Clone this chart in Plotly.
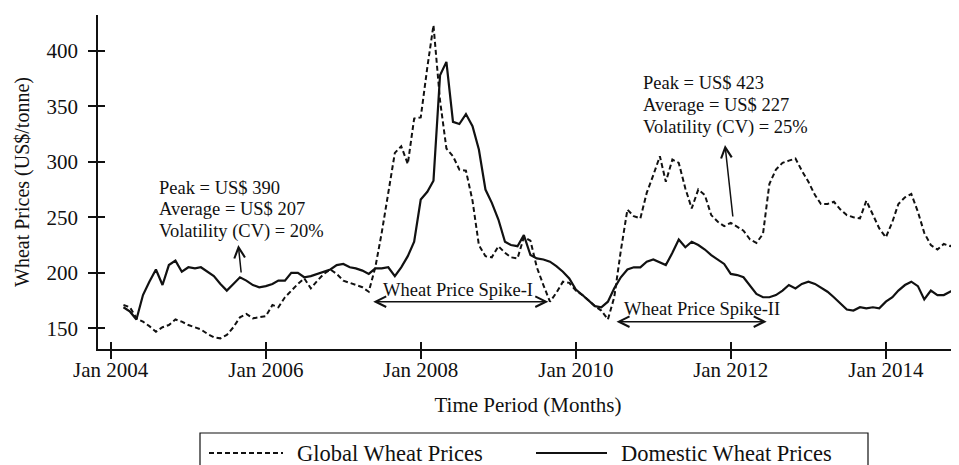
import pandas as pd
import plotly.graph_objects as go

# ---- data (monthly, Mar 2004 - Dec 2014), US$/tonne ----
start_month = "2004-03-01"
n_months = 130
months = pd.date_range(start_month, periods=n_months, freq="MS")

global_prices = [
    171, 169, 159, 156, 152, 147, 151, 153, 158, 156,
    153, 151, 149, 145, 142, 141, 144, 151, 160, 163,
    159, 160, 161, 171, 169, 178, 184, 190, 195, 186,
    193, 199, 203, 199, 193, 191, 189, 187, 183, 205,
    236, 272, 308, 314, 298, 339, 340, 385, 423, 355,
    312, 305, 293, 292, 265, 225, 215, 214, 224, 218,
    214, 213, 232, 229, 205, 189, 174, 182, 192, 191,
    184, 180, 175, 170, 166, 158, 178, 220, 257, 251,
    249, 272, 288, 305, 282, 302, 299, 276, 258, 275,
    270, 252, 246, 242, 245, 241, 238, 230, 227, 235,
    280, 293, 299, 301, 303, 292, 282, 270, 262, 262,
    264, 257, 252, 250, 249, 265, 252, 240, 232, 246,
    262, 268, 271, 255, 236, 225, 221, 226, 224, 228,
]

domestic_prices = [
    169, 165, 158, 180, 192, 203, 189, 207, 211, 201,
    205, 204, 205, 201, 197, 190, 184, 190, 196, 193,
    189, 187, 188, 190, 193, 193, 200, 200, 196, 197,
    199, 201, 203, 207, 208, 205, 204, 202, 199, 204,
    204, 205, 197, 205, 215, 228, 266, 273, 283, 378,
    390, 336, 334, 343, 332, 311, 275, 263, 248, 228,
    225, 224, 234, 216, 213, 212, 210, 206, 201, 195,
    185, 180, 175, 170, 169, 174, 186, 196, 203, 205,
    205, 210, 212, 209, 207, 218, 230, 223, 228, 225,
    221, 216, 212, 208, 199, 198, 196, 188, 181, 178,
    178, 180, 184, 189, 186, 190, 192, 190, 187, 183,
    178, 172, 167, 166, 169, 168, 169, 168, 174, 178,
    184, 189, 192, 188, 176, 184, 180, 180, 183, 186,
]

series_names = ["Global Wheat Prices", "Domestic Wheat Prices"]
y_ticks = [150, 200, 250, 300, 350, 400]
y_title = "Wheat Prices (US$/tonne)"
x_title = "Time Period (Months)"
left_note = ["Peak = US$ 390", "Average = US$ 207", "Volatility (CV) = 20%"]
right_note = ["Peak = US$ 423", "Average = US$ 227", "Volatility (CV) = 25%"]
spike_labels = ["Wheat Price Spike-I", "Wheat Price Spike-II"]

# ---- figure ----
FONT = "Liberation Serif, Times New Roman, serif"
INK = "#111111"
OFF = 8                      # default page body margin
W, H = 959 - OFF, 465 - OFF
ML, MR, MT, MB = 98 - OFF, 1, 15 - OFF, 116
PW, PH = W - ML - MR, H - MT - MB
X_RANGE = ["2003-11-02", "2014-12-07"]
Y_RANGE = [131.4, 432.2]


def px(xp):  # page pixel -> paper x
    return (xp - OFF - ML) / PW


def py(yp):  # page pixel -> paper y
    return (H - MB - (yp - OFF)) / PH


fig = go.Figure()
fig.add_trace(go.Scatter(
    x=months, y=global_prices, mode="lines", name=series_names[0],
    line=dict(color=INK, width=2, dash="5px,3px"), showlegend=False,
))
fig.add_trace(go.Scatter(
    x=months, y=domestic_prices, mode="lines", name=series_names[1],
    line=dict(color=INK, width=2.2), showlegend=False,
))
# empty trace to host the overlay axes that draw the inner half of the ticks
fig.add_trace(go.Scatter(x=[], y=[], xaxis="x2", yaxis="y2", showlegend=False,
                         hoverinfo="skip"))

NOTE = dict(family=FONT, size=18.5, color=INK)
annotations = []
annotations.append(dict(text=y_title, xref="paper", yref="paper", x=px(22), y=py(182),
                        xanchor="center", yanchor="middle", textangle=-90, showarrow=False,
                        font=dict(family=FONT, size=20, color=INK)))
for i, t in enumerate(left_note):
    annotations.append(dict(text=t, xref="paper", yref="paper", x=px(157),
                            y=py([188, 209, 231][i]), xanchor="left", yanchor="middle",
                            showarrow=False, font=NOTE))
for i, t in enumerate(right_note):
    annotations.append(dict(text=t, xref="paper", yref="paper", x=px(641),
                            y=py([83, 105, 128][i]), xanchor="left", yanchor="middle",
                            showarrow=False, font=NOTE))
annotations.append(dict(text=spike_labels[0], xref="paper", yref="paper", x=px(458), y=py(290),
                        xanchor="center", yanchor="middle", showarrow=False, font=NOTE))
annotations.append(dict(text=spike_labels[1], xref="paper", yref="paper", x=px(702), y=py(309),
                        xanchor="center", yanchor="middle", showarrow=False, font=NOTE))
# arrows
arrow_common = dict(text="", xref="paper", yref="paper", showarrow=True,
                    arrowhead=5, arrowsize=1.4, arrowwidth=1.5, arrowcolor=INK)
annotations.append(dict(x=px(238.3), y=py(245), ax=3, ay=29, **arrow_common))
annotations.append(dict(x=px(725), y=py(145), ax=8, ay=73, **arrow_common))
annotations.append(dict(x=px(548.3), y=py(301.7), ax=-176.6, ay=0, arrowside="end+start",
                        startarrowhead=5, startarrowsize=1.4, **arrow_common))
annotations.append(dict(x=px(766.7), y=py(321.7), ax=-151.7, ay=0, arrowside="end+start",
                        startarrowhead=5, startarrowsize=1.4, **arrow_common))

# legend (drawn manually)
leg_y = py(453)
shapes = [
    dict(type="rect", xref="paper", yref="paper", x0=px(200), x1=px(868), y0=py(490), y1=py(433),
         line=dict(color=INK, width=1.2), fillcolor="rgba(0,0,0,0)"),
    dict(type="line", xref="paper", yref="paper", x0=px(209), x1=px(283), y0=leg_y, y1=leg_y,
         line=dict(color=INK, width=2, dash="5px,3px")),
    dict(type="line", xref="paper", yref="paper", x0=px(536), x1=px(607), y0=leg_y, y1=leg_y,
         line=dict(color=INK, width=2.2)),
]
LEG = dict(family=FONT, size=22.5, color=INK)
annotations.append(dict(text=series_names[0], xref="paper", yref="paper", x=px(295), y=leg_y,
                        xanchor="left", yanchor="middle", showarrow=False, font=LEG))
annotations.append(dict(text=series_names[1], xref="paper", yref="paper", x=px(619), y=leg_y,
                        xanchor="left", yanchor="middle", showarrow=False, font=LEG))

TICKF = dict(family=FONT, size=21, color=INK)
fig.update_layout(
    width=W, height=H,
    margin=dict(l=ML, r=MR, t=MT, b=MB, pad=0),
    paper_bgcolor="white", plot_bgcolor="white",
    font=dict(family=FONT, size=21, color=INK),
    annotations=annotations, shapes=shapes,
    xaxis=dict(
        type="date", range=X_RANGE,
        tick0="2004-01-01", dtick="M24", tickformat="%b %Y",
        ticks="outside", ticklen=8, tickwidth=1.5, tickcolor=INK,
        ticklabelstandoff=-7,
        showline=True, linecolor=INK, linewidth=1.5,
        showgrid=False, zeroline=False, tickfont=TICKF,
        title=dict(text=x_title, standoff=16,
                   font=dict(family=FONT, size=21, color=INK)),
    ),
    yaxis=dict(
        range=Y_RANGE, tickvals=y_ticks,
        ticks="outside", ticklen=8, tickwidth=1.5, tickcolor=INK,
        ticklabelstandoff=6,
        showline=True, linecolor=INK, linewidth=1.5,
        showgrid=False, zeroline=False, tickfont=TICKF,
    ),
    xaxis2=dict(
        type="date", range=X_RANGE, overlaying="x", anchor="y2",
        tick0="2004-01-01", dtick="M24",
        ticks="inside", ticklen=7, tickwidth=1.5, tickcolor=INK,
        showticklabels=False, showline=False, showgrid=False, zeroline=False,
    ),
    yaxis2=dict(
        range=Y_RANGE, tickvals=y_ticks, overlaying="y", anchor="x2", side="left",
        ticks="inside", ticklen=7, tickwidth=1.5, tickcolor=INK,
        showticklabels=False, showline=False, showgrid=False, zeroline=False,
    ),
)

fig.write_html("out.html")
